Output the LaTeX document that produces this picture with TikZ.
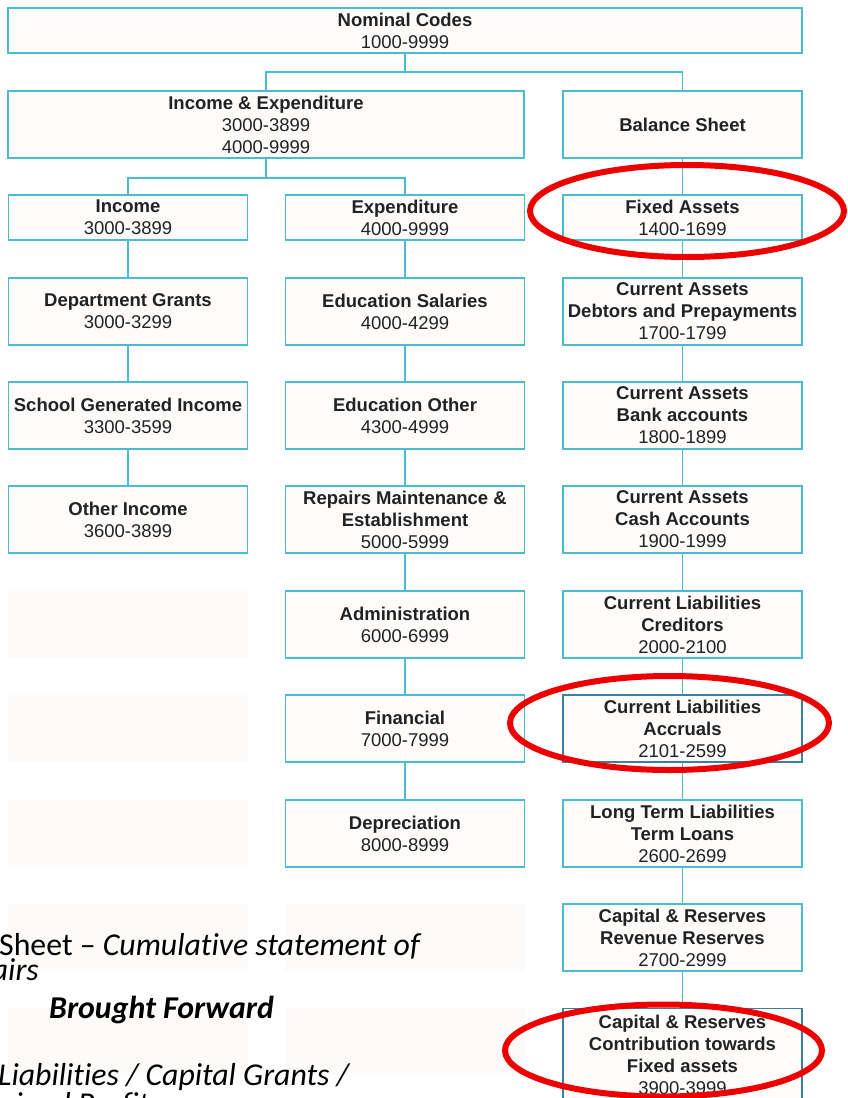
\documentclass[tikz,border=0pt]{standalone}
\usepackage{fontspec}
\setmainfont{Liberation Sans}
\newfontfamily\notefont[Ligatures={TeX,NoCommon}]{Carlito}
\definecolor{boxline}{RGB}{74,188,206}
\definecolor{boxdark}{RGB}{58,128,160}
\definecolor{boxfill}{RGB}{253,252,251}
\definecolor{ghostfill}{RGB}{252,251,249}
\definecolor{textgray}{RGB}{34,34,34}
\definecolor{ringred}{RGB}{236,0,0}
\tikzset{
  codebox/.style={draw=boxline, fill=boxfill, line width=1.6pt, minimum width=239pt,
    minimum height=67pt, align=center, inner sep=0pt, text=textgray,
    font=\fontsize{18.5}{22}\selectfont},
  shortbox/.style={codebox, minimum height=45pt},
  darkbox/.style={codebox, draw=boxdark, line width=1.2pt},
  ghost/.style={fill=ghostfill, draw=none, minimum width=240pt, minimum height=67pt, inner sep=0pt},
  link/.style={draw=boxline, line width=1.8pt},
  ring/.style={draw=ringred, line width=6pt},
  note/.style={inner sep=0pt, text=black, font=\notefont\fontsize{31.8}{25}\selectfont}
}
\begin{document}
\begin{tikzpicture}[x=1pt,y=-1pt]
\useasboundingbox (0,0) rectangle (848,1098);
\clip (0,0) rectangle (848,1098);
\fill[white] (0,0) rectangle (848,1098);

% faint empty panels in the lower left
\node[ghost] (g15) at (128,624.5) {};
\node[ghost] (g16) at (128,728.5) {};
\node[ghost] (g17) at (128,833.5) {};
\node[ghost] (g18) at (128,937.5) {};
\node[ghost] (g28) at (405,937.5) {};
\node[ghost] (g19) at (128,1041.5) {};
\node[ghost] (g29) at (405,1041.5) {};

% top levels
\node[shortbox, minimum width=794pt] (nom) at (405,30.5) {\textbf{Nominal Codes}\\1000-9999};
\node[codebox, minimum width=516pt] (ie) at (266,124.5) {\textbf{Income \& Expenditure}\\3000-3899\\4000-9999};
\node[codebox] (bs) at (682.5,124.5) {\textbf{Balance Sheet}};

% income column
\node[shortbox] (inc) at (128,217.5) {\textbf{Income}\\3000-3899};
\node[codebox] (dg) at (128,311.5) {\textbf{Department Grants}\\3000-3299};
\node[codebox] (sgi) at (128,415.5) {\textbf{School Generated Income}\\3300-3599};
\node[codebox] (oi) at (128,519.5) {\textbf{Other Income}\\3600-3899};

% expenditure column
\node[shortbox] (exp) at (405,217.5) {\textbf{Expenditure}\\4000-9999};
\node[codebox] (es) at (405,311.5) {\textbf{Education Salaries}\\4000-4299};
\node[codebox] (eo) at (405,415.5) {\textbf{Education Other}\\4300-4999};
\node[codebox] (rm) at (405,519.5) {\textbf{Repairs Maintenance \&}\\\textbf{Establishment}\\5000-5999};
\node[codebox] (adm) at (405,624.5) {\textbf{Administration}\\6000-6999};
\node[codebox] (fin) at (405,728.5) {\textbf{Financial}\\7000-7999};
\node[codebox] (dep) at (405,833.5) {\textbf{Depreciation}\\8000-8999};

% balance sheet column
\node[shortbox] (fa) at (682.5,217.5) {\textbf{Fixed Assets}\\1400-1699};
\node[codebox] (cad) at (682.5,311.5) {\textbf{Current Assets}\\\textbf{Debtors and Prepayments}\\1700-1799};
\node[codebox] (cab) at (682.5,415.5) {\textbf{Current Assets}\\\textbf{Bank accounts}\\1800-1899};
\node[codebox] (cac) at (682.5,519.5) {\textbf{Current Assets}\\\textbf{Cash Accounts}\\1900-1999};
\node[codebox] (clc) at (682.5,624.5) {\textbf{Current Liabilities}\\\textbf{Creditors}\\2000-2100};
\node[darkbox] (cla) at (682.5,728.5) {\textbf{Current Liabilities}\\\textbf{Accruals}\\2101-2599};
\node[codebox] (ltl) at (682.5,833.5) {\textbf{Long Term Liabilities}\\\textbf{Term Loans}\\2600-2699};
\node[codebox] (crr) at (682.5,937.5) {\textbf{Capital \& Reserves}\\\textbf{Revenue Reserves}\\2700-2999};
\node[darkbox, minimum height=92pt, anchor=north] (crc) at (682.5,1008) {\textbf{Capital \& Reserves}\\\textbf{Contribution towards}\\\textbf{Fixed assets}\\3900-3999};

% connectors
\draw[link] (nom.south) -- ++(0,18) coordinate (j0);
\draw[link] (ie.north) |- (j0) -| (bs.north);
\draw[link] (ie.south) -- ++(0,19) coordinate (j1);
\draw[link] (inc.north) |- (j1) -| (exp.north);
\draw[link] (inc) -- (dg) -- (sgi) -- (oi);
\draw[link] (exp) -- (es) -- (eo) -- (rm) -- (adm) -- (fin) -- (dep);
\draw[link] (bs) -- (fa) -- (cad) -- (cab) -- (cac) -- (clc) -- (cla) -- (ltl) -- (crr) -- (crc);

% overlaid note text
\node[note, anchor=base west] (n1) at (-1,955) {Sheet \textendash{} \textit{Cumulative statement of}};
\node[note, anchor=base east] (n2) at (39,980) {\textit{affairs}};
\node[note, anchor=base west] (n3) at (49,1018) {\textbf{\textit{Brought Forward}}};
\node[note, anchor=base west] (n4) at (-2,1085) {\textit{Liabilities / Capital Grants /}};
\node[note, anchor=base west] (n5) at (-1,1114) {\textit{ained Profit}};

% highlight rings
\draw[ring] (687,211) ellipse [x radius=157, y radius=46];
\draw[ring] (669.5,723) ellipse [x radius=159.5, y radius=47];
\draw[ring] (663.5,1050.5) ellipse [x radius=158.5, y radius=46];
\end{tikzpicture}
\end{document}
